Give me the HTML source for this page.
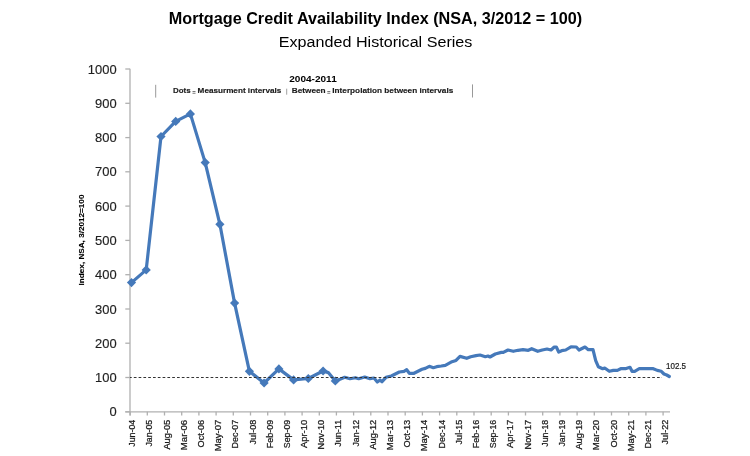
<!DOCTYPE html>
<html><head><meta charset="utf-8"><style>
html,body{margin:0;padding:0;background:#fff;width:750px;height:456px;overflow:hidden}
svg{display:block;font-family:"Liberation Sans",sans-serif;filter:blur(0.3px)}
</style></head><body>
<svg width="750" height="456" viewBox="0 0 750 456">
<rect width="750" height="456" fill="#fff"/>
<text x="375.5" y="24" text-anchor="middle" font-weight="bold" font-size="16.4" textLength="413.5" lengthAdjust="spacingAndGlyphs" fill="#000">Mortgage Credit Availability Index (NSA, 3/2012 = 100)</text>
<text x="375.6" y="46.9" text-anchor="middle" font-size="15.5" textLength="193.6" lengthAdjust="spacingAndGlyphs" fill="#000">Expanded Historical Series</text>
<line x1="130.0" y1="68.8" x2="130.0" y2="415.5" stroke="#b0b0b0" stroke-width="1.3"/>
<line x1="125.3" y1="411.8" x2="130.0" y2="411.8" stroke="#b0b0b0" stroke-width="1.3"/>
<text x="116.6" y="416.3" text-anchor="end" font-size="12.8" textLength="7.2" lengthAdjust="spacingAndGlyphs" fill="#1f1f1f" stroke="#1f1f1f" stroke-width="0.15">0</text>
<line x1="125.3" y1="377.5" x2="130.0" y2="377.5" stroke="#b0b0b0" stroke-width="1.3"/>
<text x="116.6" y="382.0" text-anchor="end" font-size="12.8" textLength="21.6" lengthAdjust="spacingAndGlyphs" fill="#1f1f1f" stroke="#1f1f1f" stroke-width="0.15">100</text>
<line x1="125.3" y1="343.2" x2="130.0" y2="343.2" stroke="#b0b0b0" stroke-width="1.3"/>
<text x="116.6" y="347.7" text-anchor="end" font-size="12.8" textLength="21.6" lengthAdjust="spacingAndGlyphs" fill="#1f1f1f" stroke="#1f1f1f" stroke-width="0.15">200</text>
<line x1="125.3" y1="309.0" x2="130.0" y2="309.0" stroke="#b0b0b0" stroke-width="1.3"/>
<text x="116.6" y="313.5" text-anchor="end" font-size="12.8" textLength="21.6" lengthAdjust="spacingAndGlyphs" fill="#1f1f1f" stroke="#1f1f1f" stroke-width="0.15">300</text>
<line x1="125.3" y1="274.7" x2="130.0" y2="274.7" stroke="#b0b0b0" stroke-width="1.3"/>
<text x="116.6" y="279.2" text-anchor="end" font-size="12.8" textLength="21.6" lengthAdjust="spacingAndGlyphs" fill="#1f1f1f" stroke="#1f1f1f" stroke-width="0.15">400</text>
<line x1="125.3" y1="240.4" x2="130.0" y2="240.4" stroke="#b0b0b0" stroke-width="1.3"/>
<text x="116.6" y="244.9" text-anchor="end" font-size="12.8" textLength="21.6" lengthAdjust="spacingAndGlyphs" fill="#1f1f1f" stroke="#1f1f1f" stroke-width="0.15">500</text>
<line x1="125.3" y1="206.1" x2="130.0" y2="206.1" stroke="#b0b0b0" stroke-width="1.3"/>
<text x="116.6" y="210.6" text-anchor="end" font-size="12.8" textLength="21.6" lengthAdjust="spacingAndGlyphs" fill="#1f1f1f" stroke="#1f1f1f" stroke-width="0.15">600</text>
<line x1="125.3" y1="171.8" x2="130.0" y2="171.8" stroke="#b0b0b0" stroke-width="1.3"/>
<text x="116.6" y="176.3" text-anchor="end" font-size="12.8" textLength="21.6" lengthAdjust="spacingAndGlyphs" fill="#1f1f1f" stroke="#1f1f1f" stroke-width="0.15">700</text>
<line x1="125.3" y1="137.6" x2="130.0" y2="137.6" stroke="#b0b0b0" stroke-width="1.3"/>
<text x="116.6" y="142.1" text-anchor="end" font-size="12.8" textLength="21.6" lengthAdjust="spacingAndGlyphs" fill="#1f1f1f" stroke="#1f1f1f" stroke-width="0.15">800</text>
<line x1="125.3" y1="103.3" x2="130.0" y2="103.3" stroke="#b0b0b0" stroke-width="1.3"/>
<text x="116.6" y="107.8" text-anchor="end" font-size="12.8" textLength="21.6" lengthAdjust="spacingAndGlyphs" fill="#1f1f1f" stroke="#1f1f1f" stroke-width="0.15">900</text>
<line x1="125.3" y1="69.0" x2="130.0" y2="69.0" stroke="#b0b0b0" stroke-width="1.3"/>
<text x="116.6" y="73.5" text-anchor="end" font-size="12.8" textLength="28.8" lengthAdjust="spacingAndGlyphs" fill="#1f1f1f" stroke="#1f1f1f" stroke-width="0.15">1000</text>
<line x1="125.3" y1="411.8" x2="670" y2="411.8" stroke="#b0b0b0" stroke-width="1.3"/>
<line x1="130.2" y1="411.8" x2="130.2" y2="415.5" stroke="#b0b0b0" stroke-width="1.3"/>
<text transform="translate(135.2,419.8) rotate(-90)" text-anchor="end" font-size="8.4" textLength="26.9" lengthAdjust="spacingAndGlyphs" fill="#1a1a1a" stroke="#1a1a1a" stroke-width="0.25">Jun-04</text>
<line x1="147.3" y1="411.8" x2="147.3" y2="415.5" stroke="#b0b0b0" stroke-width="1.3"/>
<text transform="translate(152.3,419.8) rotate(-90)" text-anchor="end" font-size="8.4" textLength="26.8" lengthAdjust="spacingAndGlyphs" fill="#1a1a1a" stroke="#1a1a1a" stroke-width="0.25">Jan-05</text>
<line x1="164.5" y1="411.8" x2="164.5" y2="415.5" stroke="#b0b0b0" stroke-width="1.3"/>
<text transform="translate(169.5,419.8) rotate(-90)" text-anchor="end" font-size="8.4" textLength="29.8" lengthAdjust="spacingAndGlyphs" fill="#1a1a1a" stroke="#1a1a1a" stroke-width="0.25">Aug-05</text>
<line x1="181.7" y1="411.8" x2="181.7" y2="415.5" stroke="#b0b0b0" stroke-width="1.3"/>
<text transform="translate(186.7,419.8) rotate(-90)" text-anchor="end" font-size="8.4" textLength="30.4" lengthAdjust="spacingAndGlyphs" fill="#1a1a1a" stroke="#1a1a1a" stroke-width="0.25">Mar-06</text>
<line x1="198.9" y1="411.8" x2="198.9" y2="415.5" stroke="#b0b0b0" stroke-width="1.3"/>
<text transform="translate(203.9,419.8) rotate(-90)" text-anchor="end" font-size="8.4" textLength="27.7" lengthAdjust="spacingAndGlyphs" fill="#1a1a1a" stroke="#1a1a1a" stroke-width="0.25">Oct-06</text>
<line x1="216.1" y1="411.8" x2="216.1" y2="415.5" stroke="#b0b0b0" stroke-width="1.3"/>
<text transform="translate(221.1,419.8) rotate(-90)" text-anchor="end" font-size="8.4" textLength="31.5" lengthAdjust="spacingAndGlyphs" fill="#1a1a1a" stroke="#1a1a1a" stroke-width="0.25">May-07</text>
<line x1="233.3" y1="411.8" x2="233.3" y2="415.5" stroke="#b0b0b0" stroke-width="1.3"/>
<text transform="translate(238.3,419.8) rotate(-90)" text-anchor="end" font-size="8.4" textLength="28.6" lengthAdjust="spacingAndGlyphs" fill="#1a1a1a" stroke="#1a1a1a" stroke-width="0.25">Dec-07</text>
<line x1="250.5" y1="411.8" x2="250.5" y2="415.5" stroke="#b0b0b0" stroke-width="1.3"/>
<text transform="translate(255.5,419.8) rotate(-90)" text-anchor="end" font-size="8.4" textLength="24.6" lengthAdjust="spacingAndGlyphs" fill="#1a1a1a" stroke="#1a1a1a" stroke-width="0.25">Jul-08</text>
<line x1="267.7" y1="411.8" x2="267.7" y2="415.5" stroke="#b0b0b0" stroke-width="1.3"/>
<text transform="translate(272.7,419.8) rotate(-90)" text-anchor="end" font-size="8.4" textLength="28.4" lengthAdjust="spacingAndGlyphs" fill="#1a1a1a" stroke="#1a1a1a" stroke-width="0.25">Feb-09</text>
<line x1="284.9" y1="411.8" x2="284.9" y2="415.5" stroke="#b0b0b0" stroke-width="1.3"/>
<text transform="translate(289.9,419.8) rotate(-90)" text-anchor="end" font-size="8.4" textLength="28.4" lengthAdjust="spacingAndGlyphs" fill="#1a1a1a" stroke="#1a1a1a" stroke-width="0.25">Sep-09</text>
<line x1="302.1" y1="411.8" x2="302.1" y2="415.5" stroke="#b0b0b0" stroke-width="1.3"/>
<text transform="translate(307.1,419.8) rotate(-90)" text-anchor="end" font-size="8.4" textLength="28.3" lengthAdjust="spacingAndGlyphs" fill="#1a1a1a" stroke="#1a1a1a" stroke-width="0.25">Apr-10</text>
<line x1="319.3" y1="411.8" x2="319.3" y2="415.5" stroke="#b0b0b0" stroke-width="1.3"/>
<text transform="translate(324.3,419.8) rotate(-90)" text-anchor="end" font-size="8.4" textLength="29.6" lengthAdjust="spacingAndGlyphs" fill="#1a1a1a" stroke="#1a1a1a" stroke-width="0.25">Nov-10</text>
<line x1="336.4" y1="411.8" x2="336.4" y2="415.5" stroke="#b0b0b0" stroke-width="1.3"/>
<text transform="translate(341.4,419.8) rotate(-90)" text-anchor="end" font-size="8.4" textLength="26.9" lengthAdjust="spacingAndGlyphs" fill="#1a1a1a" stroke="#1a1a1a" stroke-width="0.25">Jun-11</text>
<line x1="353.6" y1="411.8" x2="353.6" y2="415.5" stroke="#b0b0b0" stroke-width="1.3"/>
<text transform="translate(358.6,419.8) rotate(-90)" text-anchor="end" font-size="8.4" textLength="26.8" lengthAdjust="spacingAndGlyphs" fill="#1a1a1a" stroke="#1a1a1a" stroke-width="0.25">Jan-12</text>
<line x1="370.8" y1="411.8" x2="370.8" y2="415.5" stroke="#b0b0b0" stroke-width="1.3"/>
<text transform="translate(375.8,419.8) rotate(-90)" text-anchor="end" font-size="8.4" textLength="29.8" lengthAdjust="spacingAndGlyphs" fill="#1a1a1a" stroke="#1a1a1a" stroke-width="0.25">Aug-12</text>
<line x1="388.0" y1="411.8" x2="388.0" y2="415.5" stroke="#b0b0b0" stroke-width="1.3"/>
<text transform="translate(393.0,419.8) rotate(-90)" text-anchor="end" font-size="8.4" textLength="30.4" lengthAdjust="spacingAndGlyphs" fill="#1a1a1a" stroke="#1a1a1a" stroke-width="0.25">Mar-13</text>
<line x1="405.2" y1="411.8" x2="405.2" y2="415.5" stroke="#b0b0b0" stroke-width="1.3"/>
<text transform="translate(410.2,419.8) rotate(-90)" text-anchor="end" font-size="8.4" textLength="27.7" lengthAdjust="spacingAndGlyphs" fill="#1a1a1a" stroke="#1a1a1a" stroke-width="0.25">Oct-13</text>
<line x1="422.4" y1="411.8" x2="422.4" y2="415.5" stroke="#b0b0b0" stroke-width="1.3"/>
<text transform="translate(427.4,419.8) rotate(-90)" text-anchor="end" font-size="8.4" textLength="31.5" lengthAdjust="spacingAndGlyphs" fill="#1a1a1a" stroke="#1a1a1a" stroke-width="0.25">May-14</text>
<line x1="439.6" y1="411.8" x2="439.6" y2="415.5" stroke="#b0b0b0" stroke-width="1.3"/>
<text transform="translate(444.6,419.8) rotate(-90)" text-anchor="end" font-size="8.4" textLength="28.6" lengthAdjust="spacingAndGlyphs" fill="#1a1a1a" stroke="#1a1a1a" stroke-width="0.25">Dec-14</text>
<line x1="456.8" y1="411.8" x2="456.8" y2="415.5" stroke="#b0b0b0" stroke-width="1.3"/>
<text transform="translate(461.8,419.8) rotate(-90)" text-anchor="end" font-size="8.4" textLength="24.6" lengthAdjust="spacingAndGlyphs" fill="#1a1a1a" stroke="#1a1a1a" stroke-width="0.25">Jul-15</text>
<line x1="474.0" y1="411.8" x2="474.0" y2="415.5" stroke="#b0b0b0" stroke-width="1.3"/>
<text transform="translate(479.0,419.8) rotate(-90)" text-anchor="end" font-size="8.4" textLength="28.4" lengthAdjust="spacingAndGlyphs" fill="#1a1a1a" stroke="#1a1a1a" stroke-width="0.25">Feb-16</text>
<line x1="491.2" y1="411.8" x2="491.2" y2="415.5" stroke="#b0b0b0" stroke-width="1.3"/>
<text transform="translate(496.2,419.8) rotate(-90)" text-anchor="end" font-size="8.4" textLength="28.4" lengthAdjust="spacingAndGlyphs" fill="#1a1a1a" stroke="#1a1a1a" stroke-width="0.25">Sep-16</text>
<line x1="508.4" y1="411.8" x2="508.4" y2="415.5" stroke="#b0b0b0" stroke-width="1.3"/>
<text transform="translate(513.4,419.8) rotate(-90)" text-anchor="end" font-size="8.4" textLength="28.3" lengthAdjust="spacingAndGlyphs" fill="#1a1a1a" stroke="#1a1a1a" stroke-width="0.25">Apr-17</text>
<line x1="525.5" y1="411.8" x2="525.5" y2="415.5" stroke="#b0b0b0" stroke-width="1.3"/>
<text transform="translate(530.5,419.8) rotate(-90)" text-anchor="end" font-size="8.4" textLength="29.6" lengthAdjust="spacingAndGlyphs" fill="#1a1a1a" stroke="#1a1a1a" stroke-width="0.25">Nov-17</text>
<line x1="542.7" y1="411.8" x2="542.7" y2="415.5" stroke="#b0b0b0" stroke-width="1.3"/>
<text transform="translate(547.7,419.8) rotate(-90)" text-anchor="end" font-size="8.4" textLength="26.9" lengthAdjust="spacingAndGlyphs" fill="#1a1a1a" stroke="#1a1a1a" stroke-width="0.25">Jun-18</text>
<line x1="559.9" y1="411.8" x2="559.9" y2="415.5" stroke="#b0b0b0" stroke-width="1.3"/>
<text transform="translate(564.9,419.8) rotate(-90)" text-anchor="end" font-size="8.4" textLength="26.8" lengthAdjust="spacingAndGlyphs" fill="#1a1a1a" stroke="#1a1a1a" stroke-width="0.25">Jan-19</text>
<line x1="577.1" y1="411.8" x2="577.1" y2="415.5" stroke="#b0b0b0" stroke-width="1.3"/>
<text transform="translate(582.1,419.8) rotate(-90)" text-anchor="end" font-size="8.4" textLength="29.8" lengthAdjust="spacingAndGlyphs" fill="#1a1a1a" stroke="#1a1a1a" stroke-width="0.25">Aug-19</text>
<line x1="594.3" y1="411.8" x2="594.3" y2="415.5" stroke="#b0b0b0" stroke-width="1.3"/>
<text transform="translate(599.3,419.8) rotate(-90)" text-anchor="end" font-size="8.4" textLength="30.4" lengthAdjust="spacingAndGlyphs" fill="#1a1a1a" stroke="#1a1a1a" stroke-width="0.25">Mar-20</text>
<line x1="611.5" y1="411.8" x2="611.5" y2="415.5" stroke="#b0b0b0" stroke-width="1.3"/>
<text transform="translate(616.5,419.8) rotate(-90)" text-anchor="end" font-size="8.4" textLength="27.7" lengthAdjust="spacingAndGlyphs" fill="#1a1a1a" stroke="#1a1a1a" stroke-width="0.25">Oct-20</text>
<line x1="628.7" y1="411.8" x2="628.7" y2="415.5" stroke="#b0b0b0" stroke-width="1.3"/>
<text transform="translate(633.7,419.8) rotate(-90)" text-anchor="end" font-size="8.4" textLength="31.5" lengthAdjust="spacingAndGlyphs" fill="#1a1a1a" stroke="#1a1a1a" stroke-width="0.25">May-21</text>
<line x1="645.9" y1="411.8" x2="645.9" y2="415.5" stroke="#b0b0b0" stroke-width="1.3"/>
<text transform="translate(650.9,419.8) rotate(-90)" text-anchor="end" font-size="8.4" textLength="28.6" lengthAdjust="spacingAndGlyphs" fill="#1a1a1a" stroke="#1a1a1a" stroke-width="0.25">Dec-21</text>
<line x1="663.1" y1="411.8" x2="663.1" y2="415.5" stroke="#b0b0b0" stroke-width="1.3"/>
<text transform="translate(668.1,419.8) rotate(-90)" text-anchor="end" font-size="8.4" textLength="24.6" lengthAdjust="spacingAndGlyphs" fill="#1a1a1a" stroke="#1a1a1a" stroke-width="0.25">Jul-22</text>
<text transform="translate(83.5,240) rotate(-90)" text-anchor="middle" font-weight="bold" font-size="7.4" textLength="90.8" lengthAdjust="spacingAndGlyphs" fill="#000" stroke="#000" stroke-width="0.12">Index, NSA, 3/2012=100</text>
<text x="313" y="81.6" text-anchor="middle" font-weight="bold" font-size="9.6" textLength="47.5" lengthAdjust="spacingAndGlyphs" fill="#000">2004-2011</text>
<text x="173.0" y="93.4" font-weight="bold" font-size="7.9" textLength="17.7" lengthAdjust="spacingAndGlyphs" fill="#1a1a1a" stroke="#1a1a1a" stroke-width="0.15">Dots</text>
<text x="197.6" y="93.4" font-weight="bold" font-size="7.9" textLength="83.8" lengthAdjust="spacingAndGlyphs" fill="#1a1a1a" stroke="#1a1a1a" stroke-width="0.15">Measurment intervals</text>
<text x="291.7" y="93.4" font-weight="bold" font-size="7.9" textLength="33.9" lengthAdjust="spacingAndGlyphs" fill="#1a1a1a" stroke="#1a1a1a" stroke-width="0.15">Between</text>
<text x="332.3" y="93.4" font-weight="bold" font-size="7.9" textLength="121.0" lengthAdjust="spacingAndGlyphs" fill="#1a1a1a" stroke="#1a1a1a" stroke-width="0.15">Interpolation between intervals</text>
<rect x="192.5" y="91.2" width="3" height="0.8" fill="#555"/><rect x="192.5" y="92.8" width="3" height="0.8" fill="#555"/>
<rect x="327.3" y="91.2" width="3" height="0.8" fill="#555"/><rect x="327.3" y="92.8" width="3" height="0.8" fill="#555"/>
<line x1="286.7" y1="88.7" x2="286.7" y2="94.7" stroke="#888" stroke-width="0.8"/>
<line x1="155.7" y1="84.8" x2="155.7" y2="97.6" stroke="#999" stroke-width="1"/>
<line x1="472.5" y1="84.4" x2="472.5" y2="97.5" stroke="#999" stroke-width="1"/>
<polyline points="131.5,282.6 146.2,269.9 161.0,136.5 175.7,121.4 190.4,113.9 205.2,162.6 219.9,224.3 234.6,303.1 249.4,371.3 264.1,383.0 278.9,368.9 293.6,379.9 308.3,378.5 323.1,371.0 328.3,372.6 335.3,381.0 339.3,379.6 344.7,377.3 350.0,378.7 355.3,377.7 358.7,378.7 364.7,377.0 370.0,378.7 374.0,378.0 377.3,382.0 380.0,380.0 382.0,381.7 386.0,377.3 391.3,376.0 399.3,372.0 404.0,371.3 406.7,369.7 409.3,373.3 414.0,373.3 422.0,369.3 425.3,368.4 429.3,366.3 433.3,367.7 436.7,366.7 441.3,366.0 445.3,365.3 452.0,361.7 456.0,360.4 460.0,356.4 466.7,358.3 470.7,356.7 476.0,355.6 480.0,355.0 485.3,356.7 488.0,356.0 490.0,357.0 495.3,354.0 501.3,352.4 503.3,352.4 508.0,350.0 513.3,351.3 518.0,350.3 523.0,349.7 528.3,350.3 531.7,348.7 537.7,351.3 542.3,350.0 547.0,349.0 551.0,350.0 554.3,347.0 556.3,347.0 558.7,352.0 561.7,350.7 565.7,350.0 571.0,346.8 576.3,347.0 579.0,350.0 585.0,347.0 588.3,349.7 593.0,349.7 595.7,360.7 598.3,366.7 602.7,368.7 604.7,368.0 609.3,371.3 613.3,370.4 617.3,370.4 620.7,368.7 625.3,368.7 630.0,367.3 632.0,371.3 634.7,371.3 639.3,368.7 653.3,368.7 657.3,370.4 661.3,371.3 664.0,374.0 666.7,375.0 669.3,376.5" fill="none" stroke="#4579ba" stroke-width="3.2" stroke-linejoin="round" stroke-linecap="round"/>
<g fill="#4579ba"><path d="M131.5 278.0L136.1 282.6L131.5 287.2L126.9 282.6Z"/><path d="M146.2 265.3L150.8 269.9L146.2 274.5L141.6 269.9Z"/><path d="M161.0 131.9L165.6 136.5L161.0 141.1L156.4 136.5Z"/><path d="M175.7 116.8L180.3 121.4L175.7 126.0L171.1 121.4Z"/><path d="M190.4 109.3L195.0 113.9L190.4 118.5L185.8 113.9Z"/><path d="M205.2 158.0L209.8 162.6L205.2 167.2L200.6 162.6Z"/><path d="M219.9 219.7L224.5 224.3L219.9 228.9L215.3 224.3Z"/><path d="M234.6 298.5L239.2 303.1L234.6 307.7L230.0 303.1Z"/><path d="M249.4 366.7L254.0 371.3L249.4 375.9L244.8 371.3Z"/><path d="M264.1 378.4L268.7 383.0L264.1 387.6L259.5 383.0Z"/><path d="M278.9 364.3L283.5 368.9L278.9 373.6L274.3 368.9Z"/><path d="M293.6 375.3L298.2 379.9L293.6 384.5L289.0 379.9Z"/><path d="M308.3 373.9L312.9 378.5L308.3 383.1L303.7 378.5Z"/><path d="M323.1 366.4L327.7 371.0L323.1 375.6L318.5 371.0Z"/><path d="M335.3 376.4L339.9 381.0L335.3 385.6L330.7 381.0Z"/></g>
<line x1="130.0" y1="377.5" x2="662" y2="377.5" stroke="#333" stroke-width="1.1" stroke-dasharray="2.7 2.1" stroke-dashoffset="1"/>
<text x="666" y="369.3" font-size="8.4" textLength="20" lengthAdjust="spacingAndGlyphs" fill="#1a1a1a" stroke="#1a1a1a" stroke-width="0.2">102.5</text>
</svg>
</body></html>
